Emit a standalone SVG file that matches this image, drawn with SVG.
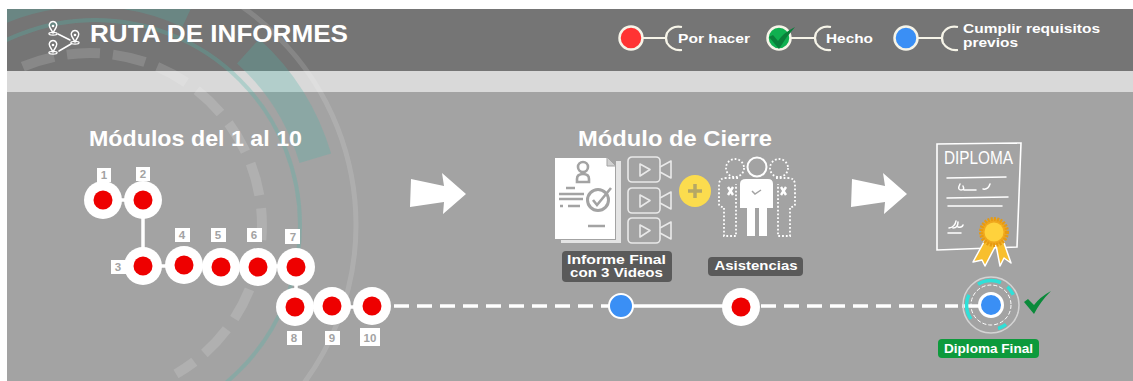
<svg xmlns="http://www.w3.org/2000/svg" width="1133" height="381" viewBox="0 0 1133 381">
<style>
text{font-family:"Liberation Sans",Arial,sans-serif;font-weight:700;fill:#fff}
.halo{fill:#fff}.dot{fill:#ee0000}
.tag{fill:#fff}.num{fill:#a3a3a3;font-size:11.500px;text-anchor:middle}
.cream{fill:none;stroke:#f6f4e8;stroke-width:2.200}
.leg{font-size:13.500px}
.ln{fill:none;stroke:#fff;stroke-width:3.500}
.vid{fill:none;stroke:#e9e9e9;stroke-width:1.600;stroke-linejoin:round}
.gi{fill:none;stroke:#a3a3a3;stroke-width:2.600}
.dots{fill:none;stroke:#fff;stroke-width:1.800;stroke-dasharray:1.800 2}
.thin{fill:none;stroke:#fff;stroke-width:1.500;stroke-linecap:round}
.lbl{font-size:13.500px;text-anchor:middle}
</style>
<defs>
<clipPath id="pg"><rect x="7" y="9" width="1126" height="372"/></clipPath>
<path id="arrow" d="M411 179L444 186L442 173L466 194L443 214L444 202L410 207Z" fill="#fff"/>
<g id="pin"><path d="M0 6L-4 -1A4.600 4.600 0 1 1 4 -1Z" fill="none" stroke="#fff" stroke-width="1.800"/><circle cx="0" cy="-2.500" r="1.600" fill="#fff"/><ellipse cx="0" cy="7" rx="5" ry="1.600" fill="none" stroke="#fff" stroke-width="1.500"/></g>
<g id="video"><rect class="vid" x="628" y="0" width="32" height="25" rx="4"/><path class="vid" d="M640 7L650 12.500L640 19Z"/><path class="vid" d="M660 10L671 4V21L660 15"/></g>
</defs>
<rect width="1133" height="381" fill="#fff"/>
<g id="background">
<rect x="7" y="9" width="1126" height="62" fill="#757575"/>
<rect x="7" y="71" width="1126" height="21" fill="#d9d9d9"/>
<rect x="7" y="92" width="1126" height="289" fill="#a3a3a3"/>
<g clip-path="url(#pg)" fill="none">
<circle cx="90" cy="225" r="235" stroke="#4fb5a8" stroke-opacity=".28" stroke-width="33" pathLength="360" stroke-dasharray="0 235 60 17.300 31.200 16.500"/>
<circle cx="95" cy="225" r="205" stroke="#4fb5a8" stroke-opacity=".3" stroke-width="4"/>
<circle cx="90" cy="225" r="266" stroke="#fff" stroke-opacity=".13" stroke-width="5"/>
<path d="M22.800 66.700A172 172 0 0 1 261.300 240M249.500 289.400A172 172 0 0 1 176 374" stroke="#fff" stroke-opacity=".14" stroke-width="10" stroke-dasharray="33 13"/>
</g>
</g>
<g id="header-title">
<use href="#pin" transform="translate(53 28) scale(.82)"/><use href="#pin" transform="translate(75 37) scale(.82)"/><use href="#pin" transform="translate(53 47) scale(.82)"/>
<path class="thin" d="M58 34L70 40M59 51L71 44" stroke-width="1.300"/>
<text x="90" y="42" font-size="24.500" textLength="258" lengthAdjust="spacingAndGlyphs">RUTA DE INFORMES</text>
</g>
<g id="legend">
<g id="legend-por-hacer"><path class="cream" d="M642 38H666M682 27Q672 25 667 33Q665 38 667 43Q672 51 682 50"/><circle cx="631" cy="38" r="11.500" fill="#ff3333" stroke="#f6f4e8" stroke-width="2.500"/><text class="leg" x="678" y="43" textLength="72" lengthAdjust="spacingAndGlyphs">Por hacer</text></g>
<g id="legend-hecho"><path class="cream" d="M790 38H814M831 27Q821 25 816 33Q814 38 816 43Q821 51 831 50"/><circle cx="779" cy="38" r="11.500" fill="#10b050" stroke="#f6f4e8" stroke-width="2.500"/><path d="M769 37L773 35L778 41Q783 33 795 27Q786 37 779 49Z" fill="#0a7f3a"/><text class="leg" x="826" y="43" textLength="47" lengthAdjust="spacingAndGlyphs">Hecho</text></g>
<g id="legend-requisitos"><path class="cream" d="M918 38H941M958 27Q948 25 943 33Q941 38 943 43Q948 51 958 50"/><circle cx="906" cy="38" r="11.500" fill="#3a8ff5" stroke="#f6f4e8" stroke-width="2.500"/><text class="leg" x="963" y="33" textLength="137" lengthAdjust="spacingAndGlyphs">Cumplir requisitos</text><text class="leg" x="963" y="47" textLength="55" lengthAdjust="spacingAndGlyphs">previos</text></g>
</g>
<text id="title-modulos" x="89" y="146" font-size="21.500" textLength="213" lengthAdjust="spacingAndGlyphs">Módulos del 1 al 10</text>
<text id="title-cierre" x="578" y="146" font-size="21.500" textLength="194" lengthAdjust="spacingAndGlyphs">Módulo de Cierre</text>
<use id="arrow-1" href="#arrow"/>
<use id="arrow-2" href="#arrow" x="441"/>
<g id="connectors">
<path class="ln" d="M103 200H143V266H296V307H372"/>
<path class="ln" d="M372 306H622" stroke-dasharray="15 8" stroke-dashoffset="-22"/>
<path class="ln" d="M622 306H741"/>
<path class="ln" d="M741 306H958" stroke-dasharray="15 8" stroke-dashoffset="-20"/>
<path class="ln" d="M962 306H980"/>
</g>
<g id="node-1"><rect class="tag" x="97" y="168" width="14" height="14"/><text class="num" x="104" y="179">1</text><circle class="halo" cx="103" cy="200" r="19"/><circle class="dot" cx="103" cy="200" r="9.500"/></g>
<g id="node-2"><rect class="tag" x="136" y="167" width="14" height="14"/><text class="num" x="143" y="178">2</text><circle class="halo" cx="143" cy="200" r="19"/><circle class="dot" cx="143" cy="200" r="9.500"/></g>
<g id="node-3"><rect class="tag" x="111" y="260" width="15" height="14"/><text class="num" x="118" y="271">3</text><circle class="halo" cx="143" cy="266" r="19"/><circle class="dot" cx="143" cy="266" r="9.500"/></g>
<g id="node-4"><rect class="tag" x="175" y="228" width="15" height="14"/><text class="num" x="182" y="239">4</text><circle class="halo" cx="184" cy="265" r="19"/><circle class="dot" cx="184" cy="265" r="9.500"/></g>
<g id="node-5"><rect class="tag" x="211" y="228" width="15" height="14"/><text class="num" x="218" y="239">5</text><circle class="halo" cx="221" cy="267" r="19"/><circle class="dot" cx="221" cy="267" r="9.500"/></g>
<g id="node-6"><rect class="tag" x="247" y="228" width="15" height="14"/><text class="num" x="254" y="239">6</text><circle class="halo" cx="258" cy="267" r="19"/><circle class="dot" cx="258" cy="267" r="9.500"/></g>
<g id="node-7"><rect class="tag" x="285" y="229" width="15" height="15"/><text class="num" x="293" y="241">7</text><circle class="halo" cx="296" cy="267" r="19"/><circle class="dot" cx="296" cy="267" r="9.500"/></g>
<g id="node-8"><rect class="tag" x="287" y="331" width="15" height="14"/><text class="num" x="294" y="342">8</text><circle class="halo" cx="295" cy="307" r="19"/><circle class="dot" cx="295" cy="307" r="9.500"/></g>
<g id="node-9"><rect class="tag" x="325" y="331" width="15" height="14"/><text class="num" x="332" y="342">9</text><circle class="halo" cx="332" cy="306" r="19"/><circle class="dot" cx="332" cy="306" r="9.500"/></g>
<g id="node-10"><rect class="tag" x="360" y="328" width="20" height="18"/><text class="num" x="370" y="342">10</text><circle class="halo" cx="372" cy="306" r="19"/><circle class="dot" cx="372" cy="306" r="9.500"/></g>
<g id="node-requisitos"><circle cx="621" cy="306" r="12" fill="#3a8ff5" stroke="#fff" stroke-width="2"/></g>
<g id="node-cierre"><circle class="halo" cx="741" cy="307" r="19"/><circle class="dot" cx="741" cy="307" r="9.500"/></g>
<g id="informe">
<path d="M616 161H621V243H561V240H616Z" fill="#e4e4e4"/>
<path d="M555 158H607L615 166V239H555Z" fill="#fff"/>
<path d="M607 158V166H615" fill="#d0d0d0" stroke="#a3a3a3" stroke-width="1"/>
<circle class="gi" cx="583" cy="167" r="5"/>
<path class="gi" d="M577 182V179Q577 174 583 174Q589 174 589 179V182Z"/>
<path class="gi" d="M566 188H575M559 194H584M559 199H583M560 206H563M568 206H580M588 226H605"/>
<circle cx="598" cy="200" r="10.500" fill="#fff" stroke="#a3a3a3" stroke-width="3"/>
<path class="gi" d="M593 200L597 205L611 188"/>
<use href="#video" y="157"/><use href="#video" y="188"/><use href="#video" y="218"/>
</g>
<g id="plus"><circle cx="695" cy="191" r="16" fill="#fbdc4e"/><path d="M695 184V198M688 191H702" stroke="#b5a765" stroke-width="3.500" fill="none"/></g>
<g id="asistencias">
<circle class="dots" cx="735" cy="168" r="9"/><circle class="dots" cx="779" cy="168" r="9"/>
<path class="dots" d="M738 178H726Q719 178 719 185V204Q719 207 724 207V236H736V184"/>
<path class="dots" d="M776 178H788Q795 178 795 185V204Q795 207 790 207V236H778V184"/>
<path d="M728 187L733 195M733 187L728 195M781 187L786 195M786 187L781 195" stroke="#fff" stroke-width="2.400" fill="none"/>
<circle cx="757" cy="167" r="9.500" fill="none" stroke="#fff" stroke-width="2"/>
<path d="M746 179H768Q773 179 773 184V208H767V236H759V208H755V236H747V208H740V184Q740 179 746 179Z" fill="#fff"/>
<path d="M752 191L755 194L761 190" fill="none" stroke="#a3a3a3" stroke-width="1.500"/>
</g>
<g id="label-informe"><rect x="562" y="251" width="110" height="31" rx="4" fill="#5a5a5a"/><text class="lbl" x="616.500" y="264" textLength="99" lengthAdjust="spacingAndGlyphs">Informe Final</text><text class="lbl" x="616.500" y="277" textLength="93" lengthAdjust="spacingAndGlyphs">con 3 Videos</text></g>
<g id="label-asistencias"><rect x="708" y="257" width="95" height="19" rx="4" fill="#5a5a5a"/><text class="lbl" x="756" y="270" textLength="83" lengthAdjust="spacingAndGlyphs">Asistencias</text></g>
<g id="diploma">
<path d="M937 144L1021 143L1017 247L937 250Z" fill="none" stroke="#fff" stroke-width="1.600"/>
<text x="944" y="164" font-size="19" textLength="69" lengthAdjust="spacingAndGlyphs" style="font-weight:400">DIPLOMA</text>
<path class="thin" d="M947 178L1006 177M947 198L1008 197M948 206L1002 206M948 233L961 233"/>
<path class="thin" d="M960 184Q957 190 961 190Q965 190 963 186M964 190H976M983 189Q988 190 990 184" stroke-width="1.100"/>
<path class="thin" d="M949 228Q955 227 956 221M953 228Q958 228 958 222M958 227Q962 228 963 225" stroke-width="1.100"/>
<path d="M985 240L973 262L982 260L985 266L996 245L1000 266L1004 258L1011 263L1003 240Z" fill="#f8bf2e" stroke="#fff" stroke-width="1.500" stroke-linejoin="round"/>
<circle cx="994" cy="232" r="13" fill="#f0a81e" stroke="#e69a12" stroke-width="4" stroke-dasharray="2 1.200"/>
<circle cx="994" cy="232" r="9.500" fill="#ffd23c"/>
</g>
<g id="node-final">
<circle cx="991" cy="305" r="28" fill="none" stroke="#d4d4d4" stroke-width="1.500"/>
<circle cx="991" cy="305" r="24.500" fill="none" stroke="#2fe0d8" stroke-width="3.500" pathLength="360" stroke-dasharray="0 52 21 72 60 33 56 18 23 25"/>
<circle cx="991" cy="305" r="20" fill="none" stroke="#fff" stroke-width="1" stroke-dasharray="4 2"/>
<circle cx="991" cy="305" r="11.500" fill="#3a8ff5" stroke="#fff" stroke-width="3"/>
<path d="M1024 302L1028 299L1034 305Q1040 297 1051 291Q1040 302 1034 314Z" fill="#0a8a3a"/>
</g>
<g id="label-final"><rect x="938" y="339" width="101" height="19" rx="4" fill="#0d9a3c"/><text class="lbl" x="988.500" y="353" textLength="89" lengthAdjust="spacingAndGlyphs">Diploma Final</text></g>
</svg>
